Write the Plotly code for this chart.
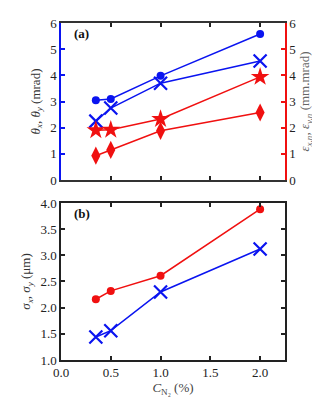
import plotly.graph_objects as go

conc = [0.35, 0.5, 1.0, 2.0]
theta_circ = [3.05, 3.1, 3.98, 5.58]
theta_x = [2.25, 2.75, 3.7, 4.55]
emit_star = [1.9, 1.92, 2.33, 3.94]
emit_diam = [0.93, 1.15, 1.88, 2.58]
sigma_red = [2.16, 2.32, 2.61, 3.88]
sigma_blue = [1.44, 1.56, 2.3, 3.12]

BLUE = '#0a14f0'
RED = '#f01010'
FONT = '"Liberation Serif", "DejaVu Serif", serif'
INK = '#222222'

fig = go.Figure()

# panel (a)
fig.add_trace(go.Scatter(x=conc, y=theta_circ, mode='lines+markers', xaxis='x', yaxis='y',
                         line=dict(color=BLUE, width=1.5),
                         marker=dict(symbol='circle', size=8, color=BLUE)))
fig.add_trace(go.Scatter(x=conc, y=theta_x, mode='lines+markers', xaxis='x', yaxis='y',
                         line=dict(color=BLUE, width=1.5),
                         marker=dict(symbol='x-thin-open', size=13,
                                     line=dict(color=BLUE, width=2.2))))
fig.add_trace(go.Scatter(x=conc, y=emit_star, mode='lines+markers', xaxis='x', yaxis='y2',
                         line=dict(color=RED, width=1.5),
                         marker=dict(symbol='star', size=14, color=RED)))
fig.add_trace(go.Scatter(x=conc, y=emit_diam, mode='lines+markers', xaxis='x', yaxis='y2',
                         line=dict(color=RED, width=1.5),
                         marker=dict(symbol='diamond-tall', size=13, color=RED)))

# panel (b)
fig.add_trace(go.Scatter(x=conc, y=sigma_red, mode='lines+markers', xaxis='x2', yaxis='y3',
                         line=dict(color=RED, width=1.5),
                         marker=dict(symbol='circle', size=8, color=RED)))
fig.add_trace(go.Scatter(x=conc, y=sigma_blue, mode='lines+markers', xaxis='x2', yaxis='y3',
                         line=dict(color=BLUE, width=1.5),
                         marker=dict(symbol='x-thin-open', size=13,
                                     line=dict(color=BLUE, width=2.2))))

tick_common = dict(ticks='inside', ticklen=4, tickwidth=1.5, showgrid=False,
                   zeroline=False, showline=True, linewidth=1.5, automargin=False,
                   tickfont=dict(family=FONT, size=13, color=INK))

fig.update_layout(
    width=320, height=400,
    margin=dict(l=53, r=43, t=15, b=48),
    paper_bgcolor='white', plot_bgcolor='white',
    showlegend=False,
    font=dict(family=FONT, size=13, color=INK),
    xaxis=dict(domain=[0, 1], anchor='y', range=[0, 2.25], dtick=0.5,
               showticklabels=False, mirror='ticks', linecolor='#333',
               tickcolor=INK, **tick_common),
    yaxis=dict(domain=[0.534, 1], anchor='x', range=[0, 6], dtick=1,
               linecolor=BLUE, tickcolor=BLUE,
               title=dict(text='<i>θ<sub>x</sub></i>, <i>θ<sub>y</sub></i> (mrad)',
                          standoff=7, font=dict(family=FONT, size=13, color='#333')),
               **tick_common),
    yaxis2=dict(overlaying='y', side='right', anchor='x', range=[0, 6], dtick=1,
                linecolor=RED, tickcolor=RED,
                title=dict(text='<i>ε<sub>x,n</sub></i>, <i>ε<sub>y,n</sub></i> (mm.mrad)',
                           standoff=5, font=dict(family=FONT, size=13, color='#666')),
                **tick_common),
    xaxis2=dict(domain=[0, 1], anchor='y3', range=[0, 2.25], dtick=0.5,
                tickformat='.1f', mirror='ticks', linecolor=INK, tickcolor=INK,
                title=dict(text='<i>C</i><sub>N₂</sub> (%)', standoff=4,
                           font=dict(family=FONT, size=13, color='#444')),
                **tick_common),
    yaxis3=dict(domain=[0, 0.466], anchor='x2', range=[1, 4], dtick=0.5,
                tickformat='.1f', mirror='ticks', linecolor=INK, tickcolor=INK,
                title=dict(text='<i>σ<sub>x</sub></i>, <i>σ<sub>y</sub></i> (μm)',
                           standoff=7, font=dict(family=FONT, size=13, color='#333')),
                **tick_common),
    annotations=[
        dict(text='<b>(a)</b>', xref='x domain', yref='y domain', x=0.05, y=0.93,
             xanchor='left', yanchor='middle', showarrow=False,
             font=dict(family=FONT, size=13, color='#111')),
        dict(text='<b>(b)</b>', xref='x2 domain', yref='y3 domain', x=0.05, y=0.93,
             xanchor='left', yanchor='middle', showarrow=False,
             font=dict(family=FONT, size=13, color='#111')),
    ],
)

fig.write_html("out.html")
